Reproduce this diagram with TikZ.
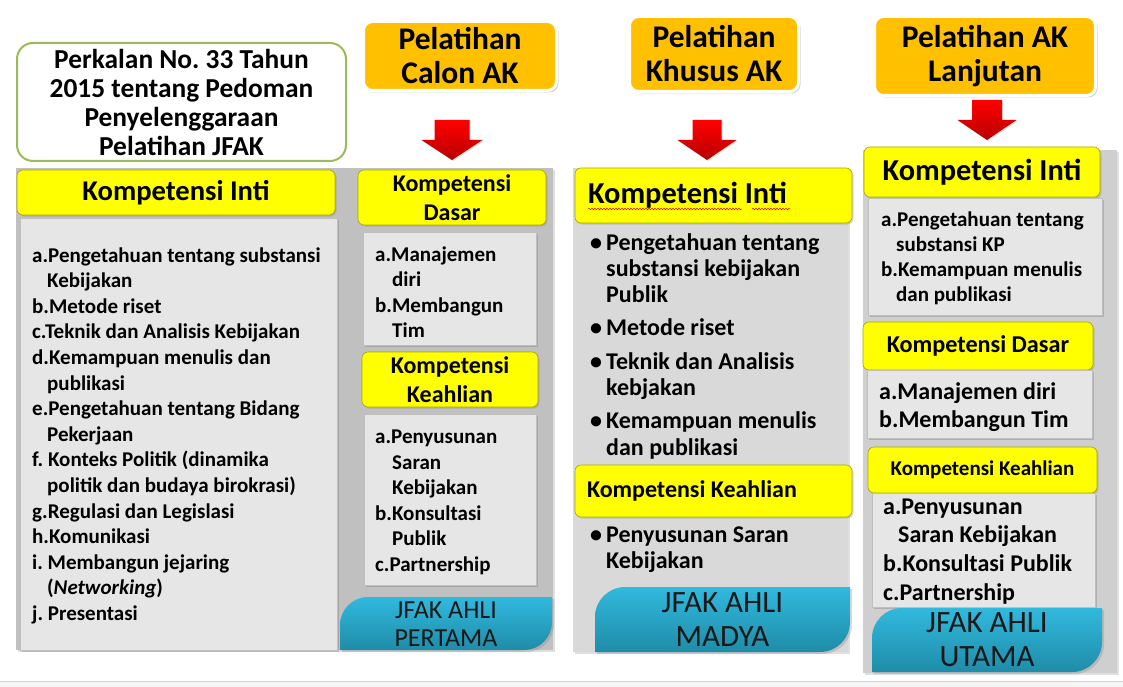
\documentclass[tikz,border=0pt]{standalone}
\usepackage{fontspec}
\setmainfont{Carlito}
\usetikzlibrary{positioning,shadows,decorations.pathmorphing}
\frenchspacing

\definecolor{kuning}{HTML}{FFFF00}
\definecolor{emas}{HTML}{FFC000}
\definecolor{hijaujudul}{HTML}{9BBB59}
\definecolor{abudaftar}{HTML}{E6E6E6}
\definecolor{abupanel}{HTML}{C0C0C0}
\definecolor{abumuda}{HTML}{D9D9D9}
\definecolor{abukanan}{HTML}{CFCFCF}
\definecolor{birumuda}{HTML}{31B9DE}
\definecolor{birutua}{HTML}{1F8CA8}

\newcommand{\fs}[2]{\fontsize{#1}{#2}\selectfont}
\newcommand{\baris}[1]{\begin{tabular}[t]{@{}l@{}}#1\end{tabular}}
\newcommand{\butir}{\makebox[16pt][l]{\textbullet}}

\begin{document}
\begin{tikzpicture}[x=1pt,y=-1pt, every node/.style={inner sep=0pt},
    panel/.style={rectangle, drop shadow={opacity=.25, shadow xshift=2pt, shadow yshift=-2pt}},
    pelatihan/.style={draw=white, line width=3pt, fill=emas, rounded corners=9pt, align=center, font=\bfseries\fs{31.5}{34}, drop shadow={opacity=.35, shadow xshift=2pt, shadow yshift=-2pt}},
    kompetensi/.style={draw=kuning!65!black, line width=.6pt, fill=kuning, rounded corners=6pt, align=center, font=\bfseries, drop shadow={opacity=.3, shadow xshift=1.5pt, shadow yshift=-1.5pt}},
    daftar/.style={draw=gray!50, fill=abudaftar, drop shadow={opacity=.4, shadow xshift=2pt, shadow yshift=-2pt}},
    isi/.style={anchor=base west, font=\bfseries},
    jfak/.style={top color=birumuda, bottom color=birutua, drop shadow={opacity=.3, shadow xshift=2pt, shadow yshift=-2pt}},
    jfakteks/.style={align=center, text=black!90}]
    \useasboundingbox (0,0) rectangle (1123,687);
    \fill[gray!8] (0,681) rectangle (1123,687);
    \draw[gray!35, line width=1pt] (0,681) -- (1123,681);

    % panels
    \node[panel, fill=abupanel, minimum width=537pt, minimum height=482pt] (panelkiri) at (284.5,409) {};
    \node[panel, fill=abumuda, minimum width=275pt, minimum height=484pt] (paneltengah) at (710.5,410) {};
    \node[panel, fill=abukanan, minimum width=254pt, minimum height=523pt] (panelkanan) at (990,411.5) {};

    % top boxes
    \node[draw=hijaujudul, line width=2pt, fill=white, rounded corners=16pt, minimum width=329pt, minimum height=118pt, align=center, font=\bfseries\fs{27.4}{29}] (perkalan) at (181.5,102) {Perkalan No. 33 Tahun\\2015 tentang Pedoman\\Penyelenggaraan\\Pelatihan JFAK};
    \node[pelatihan, minimum width=193pt, minimum height=69pt] (calon) at (460,56) {Pelatihan\\Calon AK};
    \node[pelatihan, minimum width=169pt, minimum height=75pt] (khusus) at (714,54) {Pelatihan\\Khusus AK};
    \node[pelatihan, minimum width=221pt, minimum height=79pt] (lanjutan) at (985,56) {Pelatihan AK\\Lanjutan};

    % red arrows
    \foreach \cx/\ty/\sw/\hw in {452/120/17.5/30.5, 707/120/14.5/29.5, 987/100/15/29.5}
        \shade[top color=red, bottom color=red!72!black, drop shadow={opacity=.25, shadow xshift=1pt, shadow yshift=-1pt}]
            (\cx-\sw,\ty) -- (\cx+\sw,\ty) -- (\cx+\sw,\ty+20) -- (\cx+\hw,\ty+20) -- (\cx,\ty+40)
            -- (\cx-\hw,\ty+20) -- (\cx-\sw,\ty+20) -- cycle;

    % column 1
    \node[kompetensi, minimum width=318pt, minimum height=45pt, font=\bfseries\fs{28.6}{32}] (inti1) at (176,192.5) {Kompetensi Inti};
    \node[daftar, minimum width=317pt, minimum height=432pt] (inti1box) at (178.5,434) {};
    \node[isi, font=\bfseries\fs{21}{25.6}] (inti1isi) at (32,262) {\baris{a.Pengetahuan tentang substansi\\\hspace*{15pt}Kebijakan\\b.Metode riset\\c.Teknik dan Analisis Kebijakan\\d.Kemampuan menulis dan\\\hspace*{15pt}publikasi\\e.Pengetahuan tentang Bidang\\\hspace*{15pt}Pekerjaan\\f. Konteks Politik (dinamika\\\hspace*{15pt}politik dan budaya birokrasi)\\g.Regulasi dan Legislasi\\h.Komunikasi\\i. Membangun jejaring\\\hspace*{15pt}(\textit{Networking})\\j. Presentasi}};

    % column 2
    \node[kompetensi, minimum width=188pt, minimum height=55pt, font=\bfseries\fs{24}{29}] (dasar2) at (452,197.5) {Kompetensi\\Dasar};
    \node[daftar, minimum width=173pt, minimum height=113pt] (dasar2box) at (449.5,288.5) {};
    \node[isi, font=\bfseries\fs{21}{25.3}] (dasar2isi) at (375,261.5) {\baris{a.Manajemen\\\hspace*{17pt}diri\\b.Membangun\\\hspace*{17pt}Tim}};
    \node[kompetensi, minimum width=176pt, minimum height=55pt, font=\bfseries\fs{24}{29}] (ahli2) at (450,379.5) {Kompetensi\\Keahlian};
    \node[daftar, minimum width=172pt, minimum height=171pt] (ahli2box) at (450,499.5) {};
    \node[isi, font=\bfseries\fs{21}{25.6}] (ahli2isi) at (375,443.5) {\baris{a.Penyusunan\\\hspace*{17pt}Saran\\\hspace*{17pt}Kebijakan\\b.Konsultasi\\\hspace*{17pt}Publik\\c.Partnership}};
    \shade[jfak] (368,597) -- (552,597) -- (552,622) arc[start angle=0, end angle=90, radius=28] -- (340,650) -- (340,625) arc[start angle=180, end angle=270, radius=28] -- cycle;
    \node[jfakteks, font=\fs{26}{28}] (pertama) at (446,624) {JFAK AHLI\\PERTAMA};

    % column 3
    \node[kompetensi, minimum width=277pt, minimum height=55pt, font=\bfseries\fs{30.4}{34}] (inti3) at (713.5,195.5) {\makebox[251pt][l]{Kompetensi Inti}};
    \draw[red, line width=.5pt, decorate, decoration={snake, amplitude=.8pt, segment length=3pt}] (588,209) -- (742,209);
    \draw[red, line width=.5pt, decorate, decoration={snake, amplitude=.8pt, segment length=3pt}] (752,209) -- (790,209);
    \node[isi, font=\bfseries\fs{24}{26.3}] (inti3isi) at (590,250) {\baris{\butir Pengetahuan tentang\\\hspace*{16pt}substansi kebijakan\\\hspace*{16pt}Publik\\[7pt]\butir Metode riset\\[7pt]\butir Teknik dan Analisis\\\hspace*{16pt}kebjakan\\[7pt]\butir Kemampuan menulis\\\hspace*{16pt}dan publikasi}};
    \node[kompetensi, minimum width=277pt, minimum height=52pt, font=\bfseries\fs{24}{28}] (ahli3) at (713.5,491) {\makebox[253pt][l]{Kompetensi Keahlian}};
    \node[isi, font=\bfseries\fs{24}{26.5}] (ahli3isi) at (590,542) {\baris{\butir Penyusunan Saran\\\hspace*{16pt}Kebijakan}};
    \shade[jfak] (625,587) -- (850,587) -- (850,622) arc[start angle=0, end angle=90, radius=30] -- (595,652) -- (595,617) arc[start angle=180, end angle=270, radius=30] -- cycle;
    \node[jfakteks, font=\fs{31}{34}] (madya) at (722.5,620) {JFAK AHLI\\MADYA};

    % column 4
    \node[kompetensi, minimum width=236pt, minimum height=50pt, font=\bfseries\fs{30.4}{34}] (inti4) at (982,172) {Kompetensi Inti};
    \node[daftar, minimum width=234pt, minimum height=117pt] (inti4box) at (985,256.5) {};
    \node[isi, font=\bfseries\fs{21}{25}] (inti4isi) at (881,226) {\baris{a.Pengetahuan tentang\\\hspace*{15pt}substansi KP\\b.Kemampuan menulis\\\hspace*{15pt}dan publikasi}};
    \node[kompetensi, minimum width=230pt, minimum height=48pt, font=\bfseries\fs{24.2}{28}] (dasar4) at (978,346) {Kompetensi Dasar};
    \node[daftar, minimum width=225pt, minimum height=68pt] (dasar4box) at (979.5,404) {};
    \node[isi, font=\bfseries\fs{24}{28}] (dasar4isi) at (879,399) {\baris{a.Manajemen diri\\b.Membangun Tim}};
    \node[kompetensi, minimum width=229pt, minimum height=46pt, font=\bfseries\fs{21}{24}] (ahli4) at (982.5,470) {Kompetensi Keahlian};
    \node[daftar, minimum width=223pt, minimum height=114pt] (ahli4box) at (983.5,550) {};
    \node[isi, font=\bfseries\fs{24}{28.7}] (ahli4isi) at (883,514) {\baris{a.Penyusunan\\\hspace*{15pt}Saran Kebijakan\\b.Konsultasi Publik\\c.Partnership}};
    \shade[jfak] (902,608) -- (1102,608) -- (1102,642) arc[start angle=0, end angle=90, radius=30] -- (872,672) -- (872,638) arc[start angle=180, end angle=270, radius=30] -- cycle;
    \node[jfakteks, font=\fs{31}{34}] (utama) at (987,640) {JFAK AHLI\\UTAMA};
\end{tikzpicture}
\end{document}
